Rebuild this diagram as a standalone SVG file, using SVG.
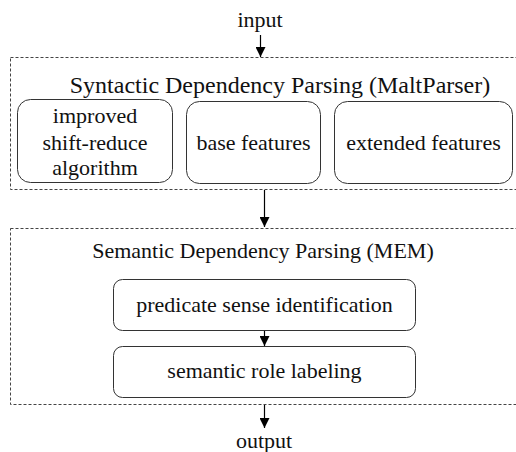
<svg xmlns="http://www.w3.org/2000/svg" width="516" height="452" viewBox="0 0 516 452" font-family="'Liberation Serif', 'Tinos', 'DejaVu Serif', serif">
<defs>
<marker id="ah" markerWidth="10" markerHeight="10" refX="10" refY="5" orient="auto" markerUnits="userSpaceOnUse">
<path d="M0,0 L10,5 L0,10 Z" fill="#000"/>
</marker>
<style>
text{font-family:'Liberation Serif','Tinos','DejaVu Serif',serif;font-size:22px;fill:#111;text-anchor:middle}
.big{font-size:24px}
.grp{fill:none;stroke:#444;stroke-width:1;stroke-dasharray:3,2}
.box{fill:#fff;stroke:#333;stroke-width:1}
.edge{stroke:#000;stroke-width:1.2;fill:none;marker-end:url(#ah)}
</style>
</defs>
<rect width="516" height="452" fill="#fff"/>
<g id="syntactic">
<rect class="grp" x="10.5" y="57.5" width="510" height="132"/>
<text class="big" x="280" y="93">Syntactic Dependency Parsing (MaltParser)</text>
</g>
<g id="semantic">
<rect class="grp" x="10.5" y="228.5" width="510" height="176"/>
<text x="263" y="258">Semantic Dependency Parsing (MEM)</text>
</g>
<g id="input"><text x="260" y="27">input</text></g>
<g id="output"><text x="264" y="448">output</text></g>
<g id="improved">
<rect class="box" x="17.5" y="99.5" width="155" height="83" rx="13"/>
<text x="95" y="123">improved</text>
<text x="95" y="150">shift-reduce</text>
<text x="95" y="175">algorithm</text>
</g>
<g id="base">
<rect class="box" x="186.5" y="101.5" width="134" height="82" rx="13"/>
<text x="253.5" y="150">base features</text>
</g>
<g id="extended">
<rect class="box" x="334.5" y="101.5" width="178" height="82" rx="13"/>
<text x="423.5" y="150">extended features</text>
</g>
<g id="predicate">
<rect class="box" x="113.5" y="279.5" width="302" height="51" rx="9"/>
<text x="264.5" y="312">predicate sense identification</text>
</g>
<g id="srl">
<rect class="box" x="113.5" y="346.5" width="302" height="51" rx="9"/>
<text x="264.5" y="378">semantic role labeling</text>
</g>
<g id="connectors">
<path class="edge" d="M260.5,35 V57"/>
<path class="edge" d="M264.5,190 V227"/>
<path class="edge" d="M264.5,331 V346"/>
<path class="edge" d="M264.5,405 V428"/>
</g>
</svg>
